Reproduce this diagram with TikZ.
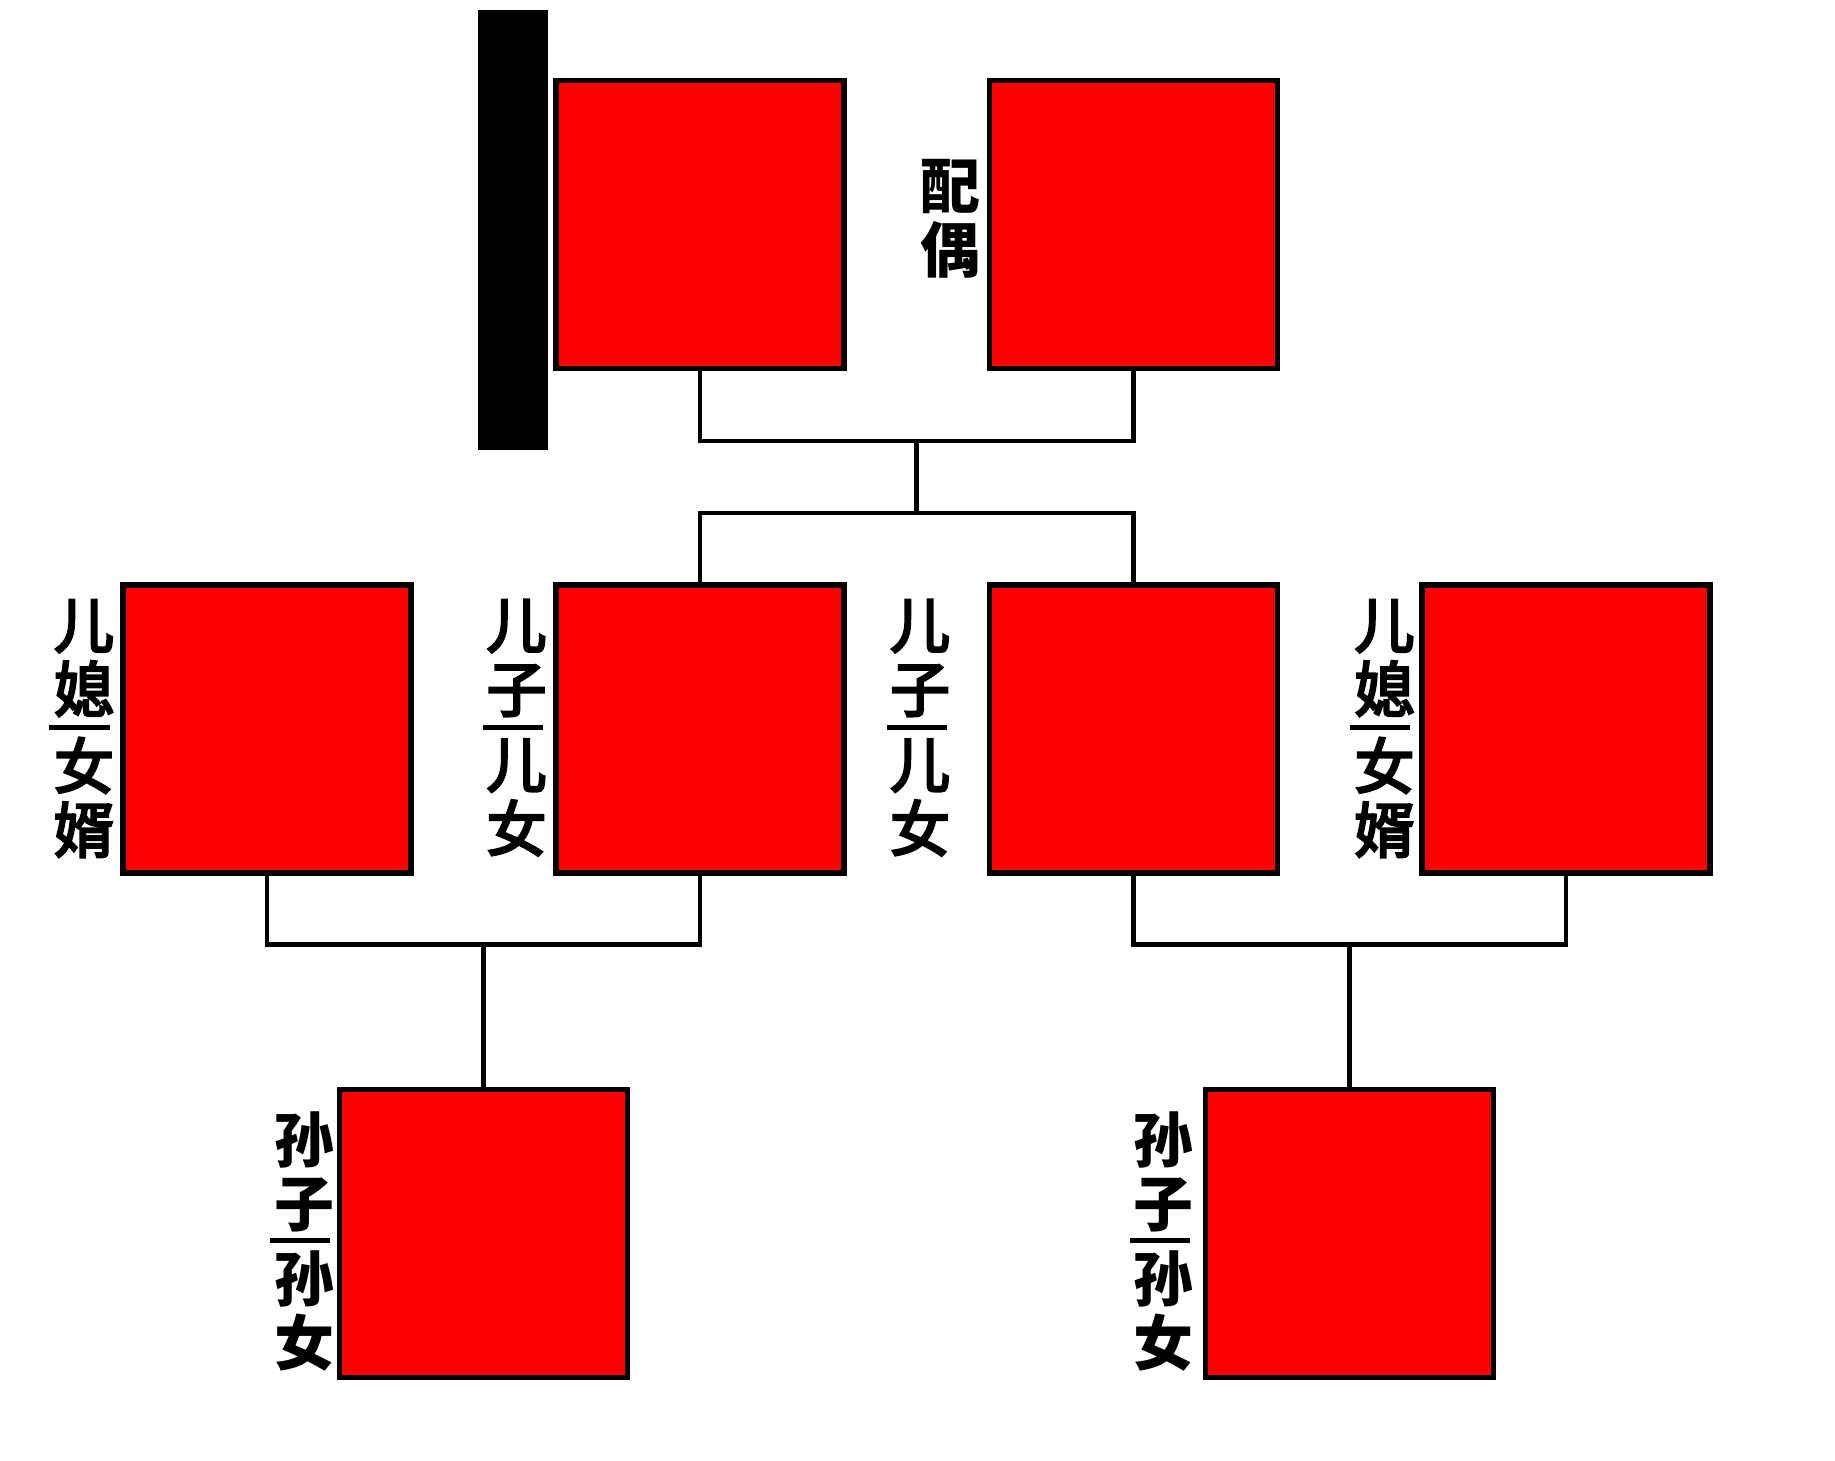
\documentclass[tikz,border=0pt]{standalone}
\usepackage{fontspec}
\newfontfamily\cjk{Noto Sans CJK SC}
\newcommand\medstroke[1]{\special{pdf:literal direct 2 Tr 2.4 w 0 G}#1\special{pdf:literal direct 0 Tr 0.4 w}}
\begin{document}
\begin{tikzpicture}[x=1pt,y=-1pt,
  pbox/.style={draw=black, line width=5.5pt, fill=red, minimum width=288pt, minimum height=288pt, inner sep=0pt, outer sep=0pt},
  conn/.style={line width=4.5pt},
  lab/.style={font=\cjk\bfseries\fontsize{60}{64}\selectfont, align=center, inner sep=0pt},
  labm/.style={font=\cjk\fontsize{60}{64}\selectfont, align=center, inner sep=0pt},
  labbar/.style={line width=5pt}]
\useasboundingbox (0,0) rectangle (1835,1460);
% black bar
\node[fill=black, minimum width=70pt, minimum height=440pt, inner sep=0pt, outer sep=0pt] (bar) at (513,230) {};
% top row
\node[pbox] (a) at (700,224.5) {};
\node[pbox] (b) at (1133.5,224.5) {};
% middle row
\node[pbox] (c1) at (267,729) {};
\node[pbox] (c2) at (700,729) {};
\node[pbox] (c3) at (1133.5,729) {};
\node[pbox] (c4) at (1566,729) {};
% bottom row
\node[pbox] (g1) at (483.5,1233.5) {};
\node[pbox] (g2) at (1349.5,1233.5) {};
% connectors
\coordinate (m1) at (916.5,441);
\coordinate (m2) at (916.5,513);
\coordinate (m3) at (483.5,944.5);
\coordinate (m4) at (1349.5,944.5);
\draw[conn] (a.south) |- (m1) -| (b.south);
\draw[conn] (m1) -- (m2);
\draw[conn] (c2.north) |- (m2) -| (c3.north);
\draw[conn] (c1.south) |- (m3) -| (c2.south);
\draw[conn] (m3) -- (g1.north);
\draw[conn] (c3.south) |- (m4) -| (c4.south);
\draw[conn] (m4) -- (g2.north);
% labels
\node[lab] (lsp) at (950,218.5) {配\\偶};
% c1
\node[labm] (l1a) at (84,658) {\medstroke{儿}\\\medstroke{媳}};
\node[labm] (l1b) at (84,797.5) {\medstroke{女}\\\medstroke{婿}};
\draw[labbar] (49,727) -- (110,727);
% c2
\node[labm] (l2a) at (516.5,658) {\medstroke{儿}\\\medstroke{子}};
\node[labm] (l2b) at (516.5,797.5) {\medstroke{儿}\\\medstroke{女}};
\draw[labbar] (483,727) -- (543,727);
% c3
\node[labm] (l3a) at (920,658) {\medstroke{儿}\\\medstroke{子}};
\node[labm] (l3b) at (920,797.5) {\medstroke{儿}\\\medstroke{女}};
\draw[labbar] (887,727) -- (947,727);
% c4
\node[labm] (l4a) at (1384.5,658) {\medstroke{儿}\\\medstroke{媳}};
\node[labm] (l4b) at (1384.5,797.5) {\medstroke{女}\\\medstroke{婿}};
\draw[labbar] (1350,727) -- (1410,727);
% g1
\node[lab] (l5a) at (304,1172) {孙\\子};
\node[lab] (l5b) at (304,1311.5) {孙\\女};
\draw[labbar] (270,1240.5) -- (330,1240.5);
% g2
\node[lab] (l6a) at (1163,1172) {孙\\子};
\node[lab] (l6b) at (1163,1311.5) {孙\\女};
\draw[labbar] (1130,1240.5) -- (1190,1240.5);
\end{tikzpicture}
\end{document}
